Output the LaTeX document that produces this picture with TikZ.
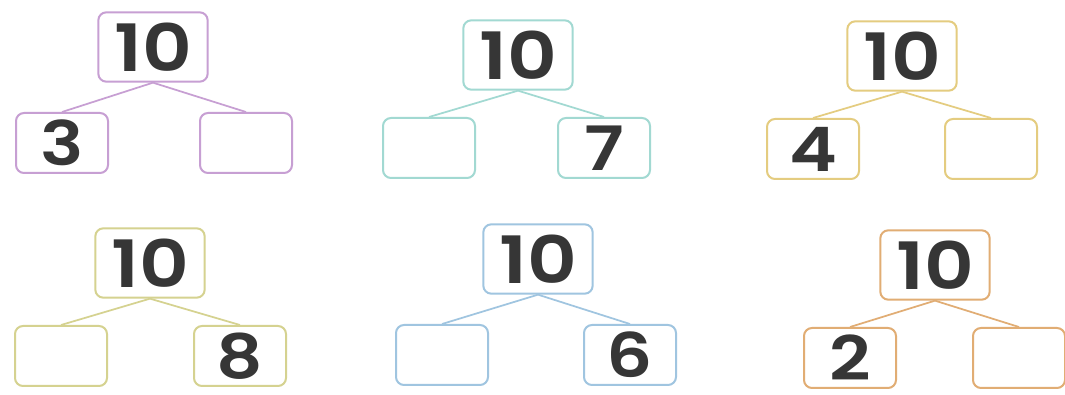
\documentclass[tikz,border=0pt]{standalone}
\usepackage{fontspec}
\setmainfont{Poppins}
\newfontfamily\bondfont{Poppins}[UprightFont=*-SemiBold,FakeStretch=1.18]
\usepackage{tikz}
\usetikzlibrary{positioning}
\definecolor{bpurple}{HTML}{C79FD3}
\definecolor{bteal}{HTML}{A2D9D2}
\definecolor{byellow}{HTML}{E4CC80}
\definecolor{bolive}{HTML}{D5D290}
\definecolor{bblue}{HTML}{A0C5E0}
\definecolor{borange}{HTML}{E1AD74}
\definecolor{numgray}{HTML}{363636}

\begin{document}
\begin{tikzpicture}[x=0.75pt,y=-0.75pt,
  nb/.style={draw,rounded corners=6pt,line width=1.5pt,text=numgray,inner sep=0pt},
  whole/.style={nb,minimum width=82pt,minimum height=52pt,font=\bondfont\fontsize{49}{49}\selectfont},
  part/.style={nb,minimum width=69pt,minimum height=45pt,font=\bondfont\fontsize{46}{46}\selectfont}]
  \useasboundingbox[fill=white] (0,0) rectangle (1065,395);
  \foreach \i/\x/\y/\dl/\dr/\dy/\col/\a/\b in {
    1/153/47/91/93/96/bpurple/3/,
    2/518/55/89/86/93/bteal//7,
    3/902/56/89/89/93/byellow/4/,
    4/150/263/89/90/93/bolive//8,
    5/538/259/96/92/96/bblue//6,
    6/935/265/85/84/93/borange/2/}{
    \node[whole,draw=\col] (w\i) at (\x,\y) {10};
    \node[part,draw=\col] (l\i) at (\x-\dl,\y+\dy) {\a};
    \node[part,draw=\col] (r\i) at (\x+\dr,\y+\dy) {\b};
    \draw[\col,line width=1.3pt] (w\i.south) -- (l\i.north) (w\i.south) -- (r\i.north);
  }
\end{tikzpicture}
\end{document}
